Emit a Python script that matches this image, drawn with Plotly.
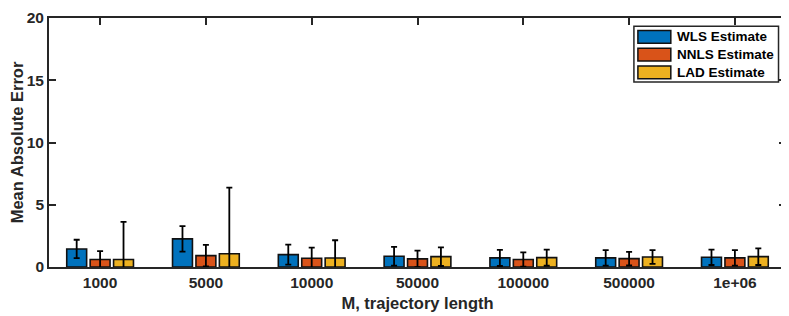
import plotly.graph_objects as go

categories = ["1000", "5000", "10000", "50000", "100000", "500000", "1e+06"]
series_names = ["WLS Estimate", "NNLS Estimate", "LAD Estimate"]
wls_mean = [1.45, 2.26, 0.99, 0.86, 0.73, 0.73, 0.78]
wls_err = [0.74, 1.02, 0.80, 0.75, 0.65, 0.62, 0.62]
nnls_mean = [0.60, 0.91, 0.70, 0.65, 0.60, 0.67, 0.73]
nnls_err = [0.67, 0.86, 0.86, 0.67, 0.57, 0.55, 0.62]
lad_mean = [0.60, 1.07, 0.72, 0.83, 0.75, 0.80, 0.83]
lad_err = [3.03, 5.30, 1.43, 0.75, 0.65, 0.55, 0.67]
colors = ["#0072BD", "#D95319", "#EDB120"]
y_ticks = [0, 5, 10, 15, 20]

means = [wls_mean, nnls_mean, lad_mean]
errs = [wls_err, nnls_err, lad_err]

AX = "#262626"
FONT = "Liberation Sans, Arial, Helvetica, sans-serif"

fig = go.Figure()
for name, m, e, c in zip(series_names, means, errs, colors):
    fig.add_trace(go.Bar(
        x=categories, y=m, name=name,
        marker=dict(color=c, line=dict(color="#111111", width=1.6)),
        error_y=dict(type="data", array=e, visible=True, color="#000000",
                     thickness=1.8, width=3),
        showlegend=False,
    ))

# page body has an 8px margin: figure occupies window from (8,8)
OFF = 8
W, H = 789 - OFF, 316 - OFF
ml, mr, mt, mb = 41, 1, 2, 49
pw = W - ml - mr
ph = H - mt - mb

def px2paper(x, y):
    x -= OFF
    y -= OFF
    return (x - ml) / pw, (H - mb - y) / ph

shapes = []
annotations = []
x0, y0 = px2paper(635.5, 18.5)
x1, y1 = px2paper(780.5, 76)
shapes.append(dict(type="rect", xref="paper", yref="paper", x0=x0, y0=y1, x1=x1, y1=y0,
                   fillcolor="white", line=dict(color=AX, width=1.5), layer="above"))
row_centers = [29.5, 47.8, 66.1]
for name, c, yc in zip(series_names, colors, row_centers):
    sx0, sy0 = px2paper(639.5, yc - 6.5)
    sx1, sy1 = px2paper(672.5, yc + 6.5)
    shapes.append(dict(type="rect", xref="paper", yref="paper", x0=sx0, y0=sy1, x1=sx1, y1=sy0,
                       fillcolor=c, line=dict(color="#111111", width=1.5), layer="above"))
    tx, ty = px2paper(677, yc)
    annotations.append(dict(xref="paper", yref="paper", x=tx, y=ty, text=name,
                            showarrow=False, xanchor="left", yanchor="middle",
                            font=dict(family=FONT, size=13.5, color="#000000", weight="bold")))

fig.update_layout(
    width=W, height=H,
    margin=dict(l=ml, r=mr, t=mt, b=mb, pad=0),
    paper_bgcolor="white", plot_bgcolor="white",
    barmode="group", bargap=0.336, bargroupgap=0.15,
    showlegend=False,
    shapes=shapes, annotations=annotations,
    font=dict(family=FONT, color=AX),
)
fig.update_xaxes(
    type="category", range=[-0.483, 6.483],
    showline=True, linecolor=AX, linewidth=1.8, mirror="ticks",
    ticks="inside", ticklen=7, tickwidth=1.5, tickcolor=AX,
    showgrid=False, zeroline=False, layer="below traces",
    tickfont=dict(family=FONT, size=15.5, color=AX, weight="bold"),
    title=dict(text="M, trajectory length", standoff=8,
               font=dict(family=FONT, size=16.5, color=AX, weight="bold")),
)
fig.update_yaxes(
    range=[0, 20], tickvals=y_ticks, ticktext=[str(v) for v in y_ticks],
    showline=True, linecolor=AX, linewidth=1.8, mirror="ticks",
    ticks="inside", ticklen=7, tickwidth=1.5, tickcolor=AX,
    showgrid=False, zeroline=False, ticklabeloverflow="allow",
    tickfont=dict(family=FONT, size=15.5, color=AX, weight="bold"),
    title=dict(text="Mean Absolute Error", standoff=4,
               font=dict(family=FONT, size=16.5, color=AX, weight="bold")),
)

fig.write_html("out.html")
